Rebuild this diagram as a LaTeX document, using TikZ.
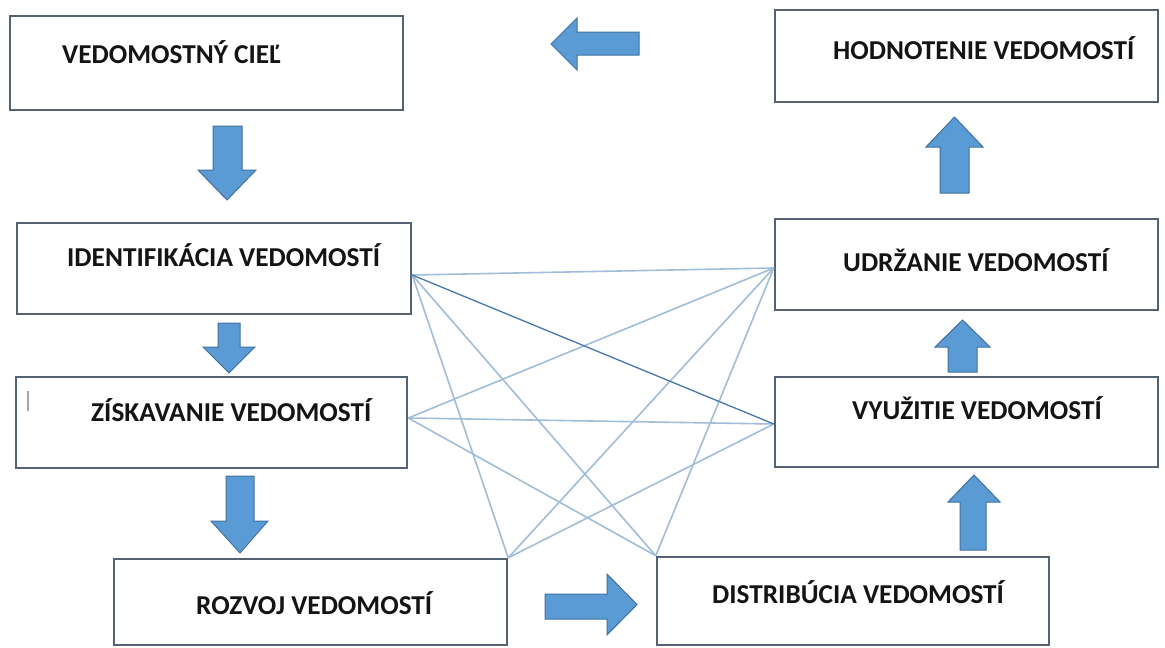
\documentclass[tikz,border=0pt]{standalone}
\usepackage{fontspec}
\setmainfont{Carlito}
\usetikzlibrary{calc}
\definecolor{boxline}{RGB}{84,98,116}
\definecolor{arrfill}{RGB}{91,155,213}
\definecolor{arrline}{RGB}{65,113,156}
\definecolor{linklight}{RGB}{160,190,218}
\definecolor{linkdark}{RGB}{70,120,175}
\tikzset{
  box/.style={draw=boxline, line width=2.5pt, fill=white, rectangle, inner sep=0pt},
  lbl/.style={anchor=west, inner sep=0pt, font=\fontsize{27.3}{30}\selectfont\bfseries, text=black!92},
  barrow/.style={fill=arrfill, draw=arrline, line width=1pt, line join=miter},
  link/.style={draw=linklight, line width=1.6pt},
  linkstrong/.style={draw=linkdark, line width=1.3pt}
}
\begin{document}
\begin{tikzpicture}[x=1pt,y=-1pt]
\useasboundingbox[fill=white] (0,0) rectangle (1165,648);

% boxes
\node[box, minimum width=393pt, minimum height=94pt] (cil) at (206.5,63) {};
\node[box, minimum width=383pt, minimum height=92pt] (hod) at (966.5,56) {};
\node[box, minimum width=394pt, minimum height=91pt] (id) at (214,268.5) {};
\node[box, minimum width=391pt, minimum height=91pt] (zis) at (211.5,422.5) {};
\node[box, minimum width=393pt, minimum height=86pt] (roz) at (310.5,602) {};
\node[box, minimum width=392pt, minimum height=88pt] (dis) at (853,601) {};
\node[box, minimum width=383pt, minimum height=91pt] (udr) at (966.5,264.5) {};
\node[box, minimum width=383pt, minimum height=90pt] (vyu) at (966.5,422) {};

% connection points
\coordinate (pA) at ([yshift=-6.5pt]id.east);
\coordinate (pB) at ([yshift=4.5pt]zis.east);
\coordinate (pC) at (roz.north east);
\coordinate (pD) at (dis.north west);
\coordinate (pE) at ([yshift=-3.5pt]udr.west);
\coordinate (pF) at ([yshift=-2pt]vyu.west);

% network of links
\draw[link] (pA) -- (pE);
\draw[link] (pA) -- (pC);
\draw[link] (pA) -- (pD);
\draw[link] (pB) -- (pE);
\draw[link] (pB) -- (pF);
\draw[link] (pB) -- (pD);
\draw[link] (pC) -- (pE);
\draw[link] (pC) -- (pF);
\draw[link] (pD) -- (pE);
\draw[linkstrong] (pA) -- (pF);

% labels
\node[lbl] (tcil) at (62,52) {VEDOMOSTNÝ CIEĽ};
\node[lbl] (thod) at (833,48) {HODNOTENIE VEDOMOSTÍ};
\node[lbl] (tid) at (67,255) {IDENTIFIKÁCIA VEDOMOSTÍ};
\node[lbl] (tzis) at (91,410) {ZÍSKAVANIE VEDOMOSTÍ};
\node[lbl] (troz) at (196,603) {ROZVOJ VEDOMOSTÍ};
\node[lbl] (tdis) at (712,592) {DISTRIBÚCIA VEDOMOSTÍ};
\node[lbl] (tudr) at (843,260) {UDRŽANIE VEDOMOSTÍ};
\node[lbl] (tvyu) at (852,408) {VYUŽITIE VEDOMOSTÍ};

% small mark inside the ZÍSKAVANIE box
\draw[gray!70, line width=1.2pt] (28,391) -- (28,411);

% block arrows
% cil -> id
\draw[barrow] (213,126) -- (242,126) -- (242,170) -- (256,170) -- (227,200) -- (198,170) -- (213,170) -- cycle;
% id -> zis
\draw[barrow] (218,323) -- (240,323) -- (240,347) -- (255,347) -- (229,373) -- (203,347) -- (218,347) -- cycle;
% zis -> roz
\draw[barrow] (226,476) -- (254,476) -- (254,521) -- (268,521) -- (240,553) -- (211,521) -- (226,521) -- cycle;
% roz -> dis
\draw[barrow] (545,594) -- (607,594) -- (607,574) -- (637,604.5) -- (607,635) -- (607,619) -- (545,619) -- cycle;
% dis -> vyu
\draw[barrow] (960,550) -- (986,550) -- (986,502) -- (1000,502) -- (974,475) -- (948,502) -- (960,502) -- cycle;
% vyu -> udr
\draw[barrow] (948,372) -- (977,372) -- (977,347) -- (990,347) -- (962.5,320) -- (935,347) -- (948,347) -- cycle;
% udr -> hod
\draw[barrow] (940,193) -- (969,193) -- (969,147) -- (983,147) -- (954.5,117) -- (926,147) -- (940,147) -- cycle;
% hod -> cil
\draw[barrow] (639,32) -- (577,32) -- (577,18) -- (551,44) -- (577,70) -- (577,55) -- (639,55) -- cycle;
\end{tikzpicture}
\end{document}
